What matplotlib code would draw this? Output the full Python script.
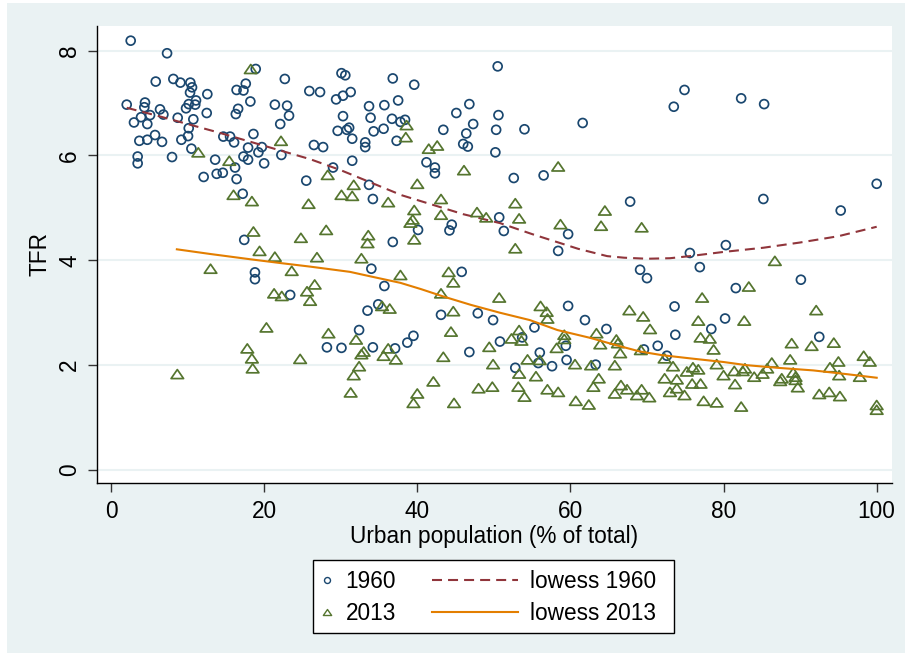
import matplotlib
matplotlib.use("Agg")
import matplotlib.pyplot as plt
from matplotlib.lines import Line2D
from matplotlib.patches import Rectangle
from matplotlib.path import Path
import numpy as np

plt.rcParams['font.family'] = ['Liberation Sans', 'DejaVu Sans']

# ---------------- data ----------------
urban_1960 = [2.57, 7.32, 8.14, 9.06, 10.36, 5.84, 10.58, 10.32, 12.58, 11.1, 11.0, 10.15, 9.8, 2.05,
              4.44, 4.35, 6.4, 6.84, 5.1, 3.92, 8.71, 10.75, 12.5, 3.0, 4.74, 10.15, 10.06, 5.75, 3.7,
              4.74, 6.66, 9.19, 3.48, 3.48, 7.97, 10.5, 14.67, 15.55, 16.07, 18.6, 17.9, 19.7, 19.25,
              17.3, 17.9, 20.0, 13.6, 16.2, 14.6, 13.8, 16.4, 12.1, 17.2, 17.4, 16.4, 17.3, 17.6, 18.2,
              18.9, 22.7, 16.6, 16.3, 21.4, 23.0, 23.25, 22.1, 22.25, 18.8, 18.8, 23.4,
              30.1, 30.6, 36.8, 39.6, 25.9, 27.3, 29.4, 30.3, 31.3, 33.7, 35.7, 37.5, 30.3, 33.9, 36.7,
              37.8, 38.4, 29.6, 31.1, 30.8, 31.5, 34.3, 35.6, 33.2, 33.2, 37.3, 26.5, 27.7, 31.5, 29.0,
              25.5, 33.7, 34.2, 36.8, 41.2, 42.3, 42.3, 43.4, 45.1, 46.8, 47.3, 46.4, 46.0, 46.6, 50.5,
              50.6, 50.3, 50.2, 50.7, 44.5, 44.2, 40.1, 51.3,
              54.0, 61.6, 73.5, 74.9, 52.6, 56.5, 67.8, 59.7, 58.4, 75.6,
              82.3, 85.3, 85.2, 100.0, 95.3, 80.3,
              34.0, 45.8, 35.7, 33.5, 34.9, 43.1, 47.9, 49.9, 32.4, 28.2, 30.1, 34.2, 37.1, 38.7, 39.5,
              46.8, 50.8,
              69.1, 70.0, 73.6, 73.7, 59.7, 61.9, 64.7, 55.3, 53.7, 59.4, 56.0, 55.8, 57.6, 59.5, 52.8,
              63.3, 69.6, 71.4, 72.6,
              76.9, 81.6, 90.1, 80.2, 78.4, 92.5]
tfr_1960 = [8.19, 7.95, 7.46, 7.39, 7.39, 7.41, 7.30, 7.20, 7.17, 7.05, 6.97, 6.98, 6.90, 6.97,
            7.01, 6.92, 6.88, 6.78, 6.77, 6.73, 6.72, 6.69, 6.81, 6.63, 6.60, 6.52, 6.37, 6.39, 6.28,
            6.30, 6.26, 6.30, 5.98, 5.85, 5.97, 6.13, 6.36, 6.36, 6.25, 6.41, 6.15, 6.16, 6.06,
            5.98, 5.92, 5.85, 5.92, 5.77, 5.67, 5.65, 5.55, 5.59, 5.27, 4.39, 7.25, 7.24, 7.37, 7.03,
            7.65, 7.46, 6.89, 6.79, 6.97, 6.95, 6.76, 6.60, 6.01, 3.77, 3.64, 3.34,
            7.57, 7.53, 7.47, 7.35, 7.23, 7.21, 7.07, 7.14, 7.21, 6.94, 6.96, 7.05, 6.75, 6.72, 6.70,
            6.64, 6.68, 6.47, 6.53, 6.49, 6.32, 6.46, 6.51, 6.25, 6.16, 6.28, 6.20, 6.16, 5.90, 5.77,
            5.52, 5.44, 5.17, 4.35, 5.87, 5.77, 5.66, 6.49, 6.81, 6.98, 6.60, 6.42, 6.22, 6.17, 7.70,
            6.77, 6.49, 6.06, 4.82, 4.68, 4.57, 4.58, 4.56,
            6.50, 6.62, 6.93, 7.25, 5.57, 5.62, 5.12, 4.50, 4.18, 4.14,
            7.09, 6.98, 5.17, 5.46, 4.95, 4.29,
            3.84, 3.78, 3.51, 3.04, 3.16, 2.96, 2.99, 2.86, 2.67, 2.34, 2.33, 2.34, 2.32, 2.43, 2.56,
            2.25, 2.45,
            3.82, 3.66, 3.12, 2.58, 3.13, 2.86, 2.69, 2.72, 2.53, 2.37, 2.24, 2.04, 1.98, 2.10, 1.95,
            2.01, 2.30, 2.37, 2.18,
            3.87, 3.47, 3.63, 2.89, 2.69, 2.54]

urban_2013 = [18.25, 22.2, 11.4, 15.45, 16.0, 18.4, 25.8, 18.6, 24.8, 19.4, 21.4, 13.0, 23.6, 21.3,
              22.3, 25.6, 26.0, 20.3, 17.8, 18.4, 18.5, 24.7, 8.66,
              38.6, 38.5, 41.5, 42.6, 46.1, 28.3, 31.7, 30.1, 31.5, 36.2, 40.0, 43.1, 43.1, 39.6, 39.1,
              39.4, 39.6, 33.6, 33.5, 28.1, 47.8, 49.0, 26.9, 32.7,
              58.4, 52.8, 53.3, 64.5, 58.7, 64.0, 69.3, 52.8,
              37.8, 44.1, 44.7, 43.1, 26.6, 35.4, 36.4, 44.7, 50.7, 28.4, 32.0, 44.4, 33.0, 32.7, 36.2,
              35.6, 37.2, 32.4, 31.7, 31.3, 42.1, 40.0, 39.5, 44.8, 43.4, 49.4, 49.9, 48.0, 49.8,
              56.1, 56.9, 57.0, 53.3, 52.3, 53.6, 59.2, 59.2, 58.2, 54.4, 56.0, 60.6, 53.3, 55.5, 53.2,
              54.0, 57.0, 58.4, 60.7, 62.4, 63.4, 63.9, 62.7, 65.8, 66.0, 66.2, 66.5, 67.7, 69.5, 70.4,
              69.2, 63.7, 63.0, 65.8, 66.6, 67.4, 68.7, 69.3, 70.3, 72.3, 73.4, 72.3, 73.9, 73.0, 73.9,
              74.9, 75.2,
              86.7, 83.3, 77.2, 92.1, 76.7, 82.7, 77.0, 78.2, 78.7, 88.9, 91.5, 94.4, 98.3, 99.1, 86.3,
              88.7, 93.9, 95.0, 76.0, 76.7, 79.1, 80.0, 81.4, 82.5, 82.8, 84.0, 85.1, 85.7, 87.4, 87.6,
              89.1, 89.4, 89.4, 89.7, 95.1, 97.8, 75.9, 77.0, 77.4, 79.1, 81.5, 82.3, 92.5, 93.8, 95.2,
              100.0, 100.0]
tfr_2013 = [7.65, 6.28, 6.06, 5.90, 5.25, 5.13, 5.08, 4.55, 4.43, 4.18, 4.07, 3.84, 3.80, 3.37,
            3.32, 3.41, 3.23, 2.72, 2.32, 2.13, 1.94, 2.12, 1.83,
            6.58, 6.35, 6.13, 6.19, 5.72, 5.63, 5.44, 5.25, 5.23, 5.11, 5.46, 5.17, 4.87, 4.96, 4.72,
            4.78, 4.40, 4.48, 4.33, 4.58, 4.92, 4.82, 4.06, 4.04,
            5.79, 5.09, 4.80, 4.95, 4.69, 4.66, 4.63, 4.23,
            3.72, 3.78, 3.58, 3.37, 3.54, 3.13, 3.08, 3.03, 3.29, 2.61, 2.49, 2.64, 2.26, 2.21, 2.32,
            2.18, 2.11, 1.98, 1.81, 1.48, 1.69, 1.46, 1.28, 1.28, 2.16, 2.35, 2.02, 1.56, 1.59,
            3.13, 3.02, 2.89, 2.67, 2.51, 2.47, 2.58, 2.50, 2.33, 2.11, 2.10, 2.02, 1.84, 1.79, 1.59,
            1.40, 1.54, 1.49, 1.32, 1.25, 2.61, 2.40, 2.00, 2.00, 2.49, 2.42, 2.23, 3.05, 2.93, 2.69,
            2.29, 1.75, 1.59, 1.46, 1.62, 1.54, 1.43, 1.54, 1.39, 2.13, 1.98, 1.75, 1.73, 1.49, 1.56,
            1.43, 1.88,
            3.99, 3.50, 3.29, 3.05, 2.85, 2.85, 2.53, 2.51, 2.30, 2.42, 2.37, 2.43, 2.18, 2.07, 2.05,
            2.11, 1.96, 2.07, 1.96, 1.92, 2.02, 1.81, 1.89, 1.89, 1.94, 1.78, 1.84, 1.94, 1.70, 1.75,
            1.86, 1.78, 1.72, 1.58, 1.81, 1.78, 1.65, 1.65, 1.32, 1.29, 1.64, 1.21, 1.45, 1.49, 1.41,
            1.24, 1.15]

lowess_1960_x = [2.05, 6, 10, 14, 18, 22, 26, 30, 34, 38, 42, 46, 50.8, 55, 58, 61, 64.8, 67, 70,
                 73, 75.6, 80, 85.2, 90, 95, 100]
lowess_1960_y = [6.91, 6.76, 6.60, 6.44, 6.27, 6.10, 5.93, 5.72, 5.48, 5.24, 5.06, 4.88, 4.71,
                 4.50, 4.36, 4.22, 4.08, 4.05, 4.03, 4.04, 4.08, 4.16, 4.24, 4.34, 4.46, 4.64]

lowess_2013_x = [8.6, 13, 18.2, 22, 26, 31.2, 34, 37.8, 40.5, 43.4, 47, 50.8, 54.7, 58.3, 62.6,
                 66, 69.1, 72, 75.6, 80, 83, 87, 91.7, 96, 100]
lowess_2013_y = [4.21, 4.12, 4.02, 3.95, 3.88, 3.78, 3.69, 3.57, 3.45, 3.31, 3.15, 3.00, 2.86,
                 2.67, 2.52, 2.38, 2.26, 2.19, 2.13, 2.06, 2.00, 1.95, 1.90, 1.83, 1.76]

x_ticks = [0, 20, 40, 60, 80, 100]
y_ticks = [0, 2, 4, 6, 8]

# ---------------- style ----------------
NAVY = '#1A476F'
MAROON = '#90353B'
FGREEN = '#55752F'
DKORANGE = '#E37E00'
BG = '#EAF2F3'
FS = 16.3

W, H = 905, 662
fig = plt.figure(figsize=(W / 100, H / 100), dpi=100, facecolor='white')

# outer graph region
fig.patches.append(Rectangle((7 / W, 1 - 653 / H), (W - 7) / W, (653 - 3) / H,
                             transform=fig.transFigure, facecolor=BG, edgecolor='none',
                             zorder=-10))

ax = fig.add_axes([97 / W, 1 - 483 / H, (892 - 97) / W, (483 - 26) / H])
ax.set_zorder(1)
ax.set_facecolor('white')
ax.set_xlim(-1.83, 102.0)
ax.set_ylim(-0.248, 8.47)

tri = Path([(-1, -0.72), (1, -0.72), (0, 0.72), (-1, -0.72)],
           [Path.MOVETO, Path.LINETO, Path.LINETO, Path.CLOSEPOLY])

h1 = ax.scatter(urban_1960, tfr_1960, s=6.4 ** 2, marker='o', facecolors='none',
                edgecolors=NAVY, linewidths=1.25, zorder=3, label='1960')
l1, = ax.plot(lowess_1960_x, lowess_1960_y, color=MAROON, lw=1.5,
              linestyle=(0, (4.8, 2.9)), zorder=4, label='lowess 1960')
h2 = ax.scatter(urban_2013, tfr_2013, s=9.0 ** 2, marker=tri, facecolors='none',
                edgecolors=FGREEN, linewidths=1.25, zorder=5, label='2013')
l2, = ax.plot(lowess_2013_x, lowess_2013_y, color=DKORANGE, lw=1.5, zorder=6,
              label='lowess 2013')

ax.set_xticks(x_ticks)
ax.set_yticks(y_ticks)
ax.yaxis.grid(True, color=BG, lw=1.5, zorder=0)
ax.set_axisbelow(True)
for s in ['top', 'right']:
    ax.spines[s].set_visible(False)
for s in ['left', 'bottom']:
    ax.spines[s].set_linewidth(1.0)
    ax.spines[s].set_color('black')
ax.tick_params(axis='both', length=6.5, width=1.0, color='#333333', labelsize=FS)
ax.tick_params(axis='x', pad=5.5)
ax.tick_params(axis='y', pad=5)
for lab in ax.get_yticklabels():
    lab.set_rotation(90)
    lab.set_va('center')
ax.set_xlabel('Urban population (% of total)', fontsize=FS, labelpad=1.5)
ax.set_ylabel('TFR', fontsize=FS, labelpad=5)

# legend box
fig.patches.append(Rectangle((313 / W, 1 - 633 / H), (674 - 313) / W, (633 - 560) / H,
                             transform=fig.transFigure, facecolor='white',
                             edgecolor='black', lw=1.0, zorder=1))
yc = 1 - 597.5 / H
mk1 = Line2D([], [], marker='o', ls='none', mfc='none', mec=NAVY, mew=1.0, ms=4.3)
mk2 = Line2D([], [], marker=tri, ls='none', mfc='none', mec=FGREEN, mew=1.0, ms=6.0)
leg1 = fig.legend([mk1, mk2], ['1960', '2013'], loc='center left',
                  bbox_to_anchor=(316 / W, yc), frameon=False, fontsize=FS,
                  handlelength=1.0, handletextpad=0.3, labelspacing=0.42,
                  borderpad=0, borderaxespad=0)
leg2 = fig.legend([l1, l2], ['lowess 1960', 'lowess 2013'], loc='center left',
                  bbox_to_anchor=(432 / W, yc), frameon=False, fontsize=FS,
                  handlelength=3.8, handletextpad=0.55, labelspacing=0.42,
                  borderpad=0, borderaxespad=0)
leg1.set_zorder(2)
leg2.set_zorder(2)

fig.savefig('out.png', dpi=100, facecolor='white')
